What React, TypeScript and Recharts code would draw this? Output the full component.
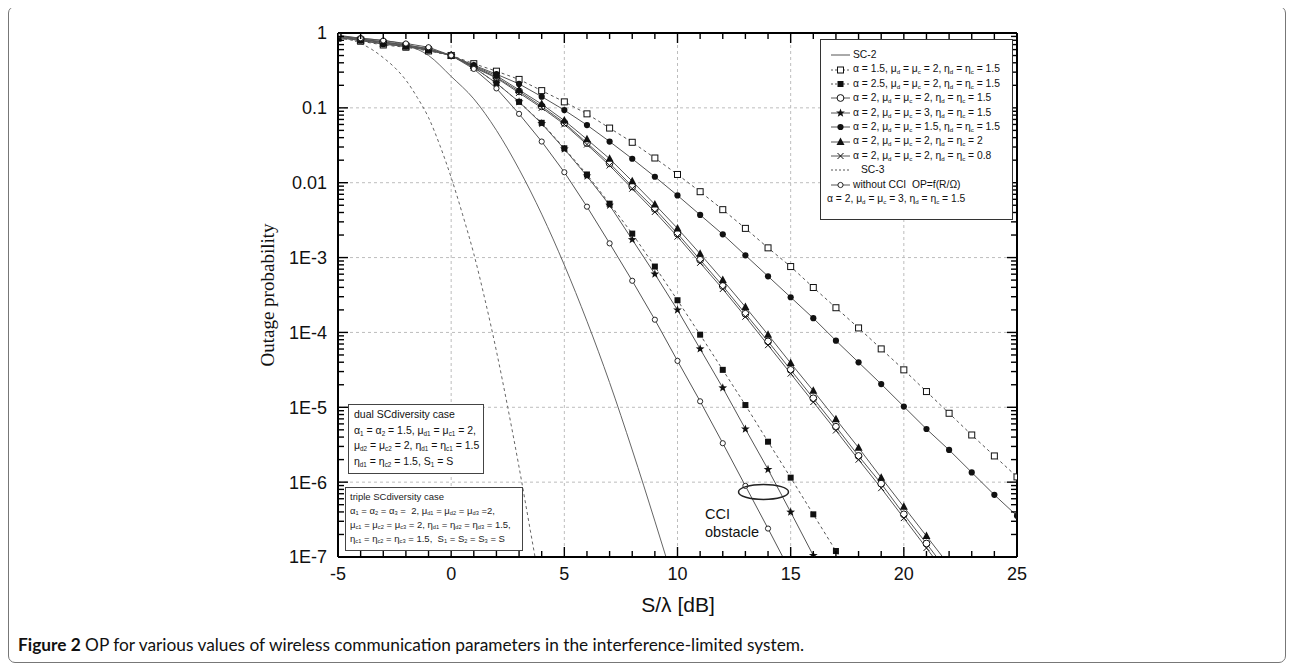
import React from "react";
import { LineChart, Line, XAxis, YAxis, CartesianGrid, ReferenceDot } from "recharts";

// S/λ in dB, one marker per dB
const snrDb = [-5, -4, -3, -2, -1, 0, 1, 2, 3, 4, 5, 6, 7, 8, 9, 10, 11, 12, 13, 14, 15, 16, 17, 18, 19, 20, 21, 22, 23, 24, 25];

// outage probability, stored as log10(OP)
const alpha15Log = [-0.07, -0.11, -0.16, -0.19, -0.24, -0.3, -0.41, -0.51, -0.62, -0.77, -0.92, -1.08, -1.27, -1.46, -1.67, -1.89, -2.12, -2.36, -2.61, -2.87, -3.12, -3.4, -3.67, -3.94, -4.22, -4.5, -4.79, -5.08, -5.37, -5.65, -5.93];
const alpha25Log = [-0.05, -0.09, -0.13, -0.17, -0.22, -0.3, -0.46, -0.67, -0.92, -1.2, -1.54, -1.89, -2.28, -2.68, -3.12, -3.57, -4.03, -4.5, -4.97, -5.46, -5.94, -6.43, -6.92, -7.41];
const baseLog = [-0.04, -0.08, -0.12, -0.16, -0.21, -0.3, -0.45, -0.59, -0.78, -0.98, -1.2, -1.47, -1.74, -2.05, -2.35, -2.68, -3.03, -3.38, -3.75, -4.12, -4.5, -4.88, -5.26, -5.65, -6.02, -6.43, -6.82, -7.22];
const mu3Log = [-0.04, -0.08, -0.12, -0.16, -0.21, -0.3, -0.46, -0.67, -0.92, -1.21, -1.55, -1.91, -2.3, -2.76, -3.22, -3.7, -4.22, -4.74, -5.29, -5.83, -6.4, -6.98, -7.56];
const mu15Log = [-0.06, -0.1, -0.15, -0.18, -0.23, -0.3, -0.43, -0.55, -0.68, -0.85, -1.03, -1.23, -1.45, -1.68, -1.92, -2.17, -2.43, -2.69, -2.97, -3.25, -3.53, -3.81, -4.11, -4.4, -4.69, -4.99, -5.29, -5.57, -5.87, -6.17, -6.45];
const eta2Log = [-0.06, -0.1, -0.14, -0.18, -0.23, -0.3, -0.44, -0.57, -0.76, -0.95, -1.17, -1.42, -1.68, -1.98, -2.29, -2.61, -2.95, -3.3, -3.66, -4.03, -4.41, -4.78, -5.16, -5.54, -5.94, -6.33, -6.72, -7.11];
const eta08Log = [-0.05, -0.09, -0.13, -0.17, -0.22, -0.3, -0.46, -0.6, -0.8, -1.0, -1.22, -1.49, -1.77, -2.08, -2.39, -2.72, -3.07, -3.42, -3.79, -4.17, -4.55, -4.93, -5.31, -5.7, -6.08, -6.48, -6.88, -7.28];
const noCciLog = [-0.03, -0.07, -0.1, -0.14, -0.19, -0.3, -0.48, -0.74, -1.08, -1.45, -1.86, -2.32, -2.81, -3.31, -3.83, -4.38, -4.92, -5.48, -6.05, -6.62, -7.2];

// curves without markers
const sc2X = [-5, -4, -3, -2, -1, 0, 1, 2, 3, 4, 5, 6, 7, 8, 9, 10];
const sc2Log = [-0.04, -0.07, -0.1, -0.16, -0.3, -0.58, -0.88, -1.3, -1.82, -2.42, -3.1, -3.85, -4.67, -5.57, -6.52, -7.5];
const sc3X = [-5, -4.5, -4, -3.5, -3, -2.5, -2, -1.5, -1, -0.5, 0, 0.5, 1, 1.5, 2, 2.5, 3, 3.5, 4];
const sc3Log = [-0.03, -0.08, -0.14, -0.22, -0.33, -0.46, -0.63, -0.86, -1.13, -1.5, -1.93, -2.42, -2.95, -3.57, -4.25, -5.0, -5.8, -6.65, -7.5];

const xMajor = [-5, 0, 5, 10, 15, 20, 25];
const yDecades = [1e-7, 1e-6, 1e-5, 1e-4, 1e-3, 1e-2, 1e-1, 1];
const yTickLabels = ["1E-7", "1E-6", "1E-5", "1E-4", "1E-3", "0.01", "0.1", "1"];

const yTicks: number[] = [];
yDecades.forEach((d, i) => {
  yTicks.push(d);
  if (i < yDecades.length - 1) for (let k = 2; k <= 9; k++) yTicks.push(k * d);
});

const toPoints = (xs: number[], logs: number[]) => logs.map((v, i) => ({ x: xs[i], op: Math.pow(10, v) }));

// plot area inside the chart svg
const PLOT = { left: 329, right: 1008, top: 26, bottom: 550 };
const SANS = "'Liberation Sans', Arial, sans-serif";
const LINE = "#555";

const isDecade = (v: number) => Math.abs(Math.log10(v) - Math.round(Math.log10(v))) < 1e-6;
const yLabel = (v: number) => {
  const i = yDecades.findIndex((d) => Math.abs(Math.log10(d) - Math.log10(v)) < 1e-6);
  return i >= 0 ? yTickLabels[i] : "";
};

function Marker({ kind, cx, cy }: { kind: string; cx: number; cy: number }) {
  if (cx == null || cy == null || isNaN(cx) || isNaN(cy)) return <g />;
  const s = "#111";
  switch (kind) {
    case "sqOpen":
      return <rect x={cx - 3} y={cy - 3} width={6} height={6} fill="#fff" stroke={s} strokeWidth={1} />;
    case "sqFilled":
      return <rect x={cx - 3} y={cy - 3} width={6} height={6} fill={s} />;
    case "circOpen":
      return <circle cx={cx} cy={cy} r={3.4} fill="#fff" stroke={s} strokeWidth={1} />;
    case "circSmall":
      return <circle cx={cx} cy={cy} r={2.6} fill="#fff" stroke={s} strokeWidth={0.9} />;
    case "circFilled":
      return <circle cx={cx} cy={cy} r={3.1} fill={s} />;
    case "tri":
      return <polygon points={`${cx},${cy - 4.5} ${cx - 4},${cy + 3} ${cx + 4},${cy + 3}`} fill={s} />;
    case "star": {
      const pts: string[] = [];
      for (let i = 0; i < 10; i++) {
        const r = i % 2 === 0 ? 4.6 : 1.9;
        const a = -Math.PI / 2 + (i * Math.PI) / 5;
        pts.push(`${cx + r * Math.cos(a)},${cy + r * Math.sin(a)}`);
      }
      return <polygon points={pts.join(" ")} fill={s} />;
    }
    case "cross":
      return (
        <g stroke={s} strokeWidth={1}>
          <line x1={cx - 3} y1={cy - 3} x2={cx + 3} y2={cy + 3} />
          <line x1={cx - 3} y1={cy + 3} x2={cx + 3} y2={cy - 3} />
        </g>
      );
    default:
      return <g />;
  }
}

const makeDot = (kind: string) => (p: any) => <Marker key={`${kind}-${p.index}`} kind={kind} cx={p.cx} cy={p.cy} />;

const Sub = ({ children }: { children: React.ReactNode }) => (
  <sub style={{ fontSize: "0.6em", verticalAlign: "-0.25em", lineHeight: 0 }}>{children}</sub>
);

const params = (a: string, mu: string, eta: string) => (
  <>
    α = {a}, μ<Sub>d</Sub> = μ<Sub>c</Sub> = {mu}, η<Sub>d</Sub> = η<Sub>c</Sub> = {eta}
  </>
);

const series = [
  { id: "sc2", data: toPoints(sc2X, sc2Log), dash: undefined, marker: "", curve: "monotone", label: <>SC-2</> },
  { id: "a15", data: toPoints(snrDb, alpha15Log), dash: "3 3", marker: "sqOpen", curve: "linear", label: params("1.5", "2", "1.5") },
  { id: "a25", data: toPoints(snrDb, alpha25Log), dash: "3 3", marker: "sqFilled", curve: "linear", label: params("2.5", "2", "1.5") },
  { id: "base", data: toPoints(snrDb, baseLog), dash: undefined, marker: "circOpen", curve: "linear", label: params("2", "2", "1.5") },
  { id: "mu3", data: toPoints(snrDb, mu3Log), dash: undefined, marker: "star", curve: "linear", label: params("2", "3", "1.5") },
  { id: "mu15", data: toPoints(snrDb, mu15Log), dash: undefined, marker: "circFilled", curve: "linear", label: params("2", "1.5", "1.5") },
  { id: "eta2", data: toPoints(snrDb, eta2Log), dash: undefined, marker: "tri", curve: "linear", label: params("2", "2", "2") },
  { id: "eta08", data: toPoints(snrDb, eta08Log), dash: undefined, marker: "cross", curve: "linear", label: params("2", "2", "0.8") },
  { id: "sc3", data: toPoints(sc3X, sc3Log), dash: "3 3", marker: "", curve: "monotone", label: <>SC-3</> },
  { id: "nocci", data: toPoints(snrDb, noCciLog), dash: undefined, marker: "circSmall", curve: "linear", label: <>without CCI&nbsp; OP=f(R/Ω)</> },
];

function LeftTick(props: any) {
  const { y, payload } = props;
  const major = isDecade(payload.value);
  return (
    <g>
      <line x1={PLOT.left} x2={PLOT.left + (major ? 10 : 6)} y1={y} y2={y} stroke="#000" strokeWidth={1.4} />
      {major && (
        <text x={PLOT.left - 11} y={y} dy="0.36em" textAnchor="end" fontSize={18} fontFamily={SANS} fill="#111">
          {yLabel(payload.value)}
        </text>
      )}
    </g>
  );
}

function RightTick(props: any) {
  const { y, payload } = props;
  const major = isDecade(payload.value);
  return <line x1={PLOT.right} x2={PLOT.right - (major ? 10 : 6)} y1={y} y2={y} stroke="#000" strokeWidth={1.4} />;
}

function BottomTick(props: any) {
  const { x, payload } = props;
  const major = xMajor.includes(payload.value);
  return (
    <g>
      <line x1={x} x2={x} y1={PLOT.bottom} y2={PLOT.bottom - (major ? 10 : 6)} stroke="#000" strokeWidth={1.4} />
      {major && (
        <text x={x} y={PLOT.bottom + 17} dy="0.36em" textAnchor="middle" fontSize={18} fontFamily={SANS} fill="#111">
          {payload.value}
        </text>
      )}
    </g>
  );
}

function TopTick(props: any) {
  const { x, payload } = props;
  const major = xMajor.includes(payload.value);
  return <line x1={x} x2={x} y1={PLOT.top} y2={PLOT.top + (major ? 10 : 6)} stroke="#000" strokeWidth={1.4} />;
}

function Ellipse(props: any) {
  return <ellipse cx={props.cx} cy={props.cy} rx={25} ry={7.5} fill="none" stroke="#222" strokeWidth={1.5} />;
}

function LegendSample({ dash, marker }: { dash?: string; marker: string }) {
  return (
    <svg width={19} height={10} style={{ display: "inline-block", verticalAlign: "middle", marginRight: 3 }}>
      <line x1={0} x2={19} y1={5} y2={5} stroke={LINE} strokeWidth={1} strokeDasharray={dash ? "2 2" : undefined} />
      {marker && <Marker kind={marker} cx={9.5} cy={5} />}
    </svg>
  );
}

const W = 1260;
const H = 620;

export default function App() {
  return (
    <div
      style={{
        position: "relative",
        width: 1278,
        height: 657,
        marginTop: -2,
        border: "1px solid #777",
        borderRadius: 7,
        boxSizing: "border-box",
        background: "#fff",
      }}
    >
      <div style={{ position: "absolute", left: 0, top: 0 }}>
        <LineChart
          width={W}
          height={H}
          margin={{ top: PLOT.top - 10, bottom: H - PLOT.bottom - 40, left: PLOT.left - 80, right: W - PLOT.right - 10 }}
        >
          <CartesianGrid
            stroke="#bdbdbd"
            strokeDasharray="3 3"
            verticalValues={xMajor}
            horizontalValues={yDecades}
          />
          <XAxis
            xAxisId={0}
            type="number"
            dataKey="x"
            domain={[-5, 25]}
            ticks={snrDb}
            interval={0}
            allowDataOverflow
            height={40}
            tickLine={false}
            axisLine={{ stroke: "#000", strokeWidth: 2 }}
            tick={<BottomTick />}
          />
          <XAxis
            xAxisId="top"
            orientation="top"
            type="number"
            dataKey="x"
            domain={[-5, 25]}
            ticks={snrDb}
            interval={0}
            allowDataOverflow
            height={10}
            tickLine={false}
            axisLine={{ stroke: "#000", strokeWidth: 2 }}
            tick={<TopTick />}
          />
          <YAxis
            yAxisId={0}
            type="number"
            scale="log"
            domain={[1e-7, 1]}
            ticks={yTicks}
            interval={0}
            allowDataOverflow
            width={80}
            tickLine={false}
            axisLine={{ stroke: "#000", strokeWidth: 2 }}
            tick={<LeftTick />}
          />
          <YAxis
            yAxisId="right"
            orientation="right"
            type="number"
            scale="log"
            domain={[1e-7, 1]}
            ticks={yTicks}
            interval={0}
            allowDataOverflow
            width={10}
            tickLine={false}
            axisLine={{ stroke: "#000", strokeWidth: 2 }}
            tick={<RightTick />}
          />
          {series.map((s) => (
            <Line
              key={s.id}
              data={s.data}
              dataKey="op"
              type={s.curve as any}
              stroke={s.marker ? LINE : "#666"}
              strokeWidth={1}
              strokeDasharray={s.dash}
              dot={s.marker ? makeDot(s.marker) : false}
              activeDot={false}
              isAnimationActive={false}
            />
          ))}
          <ReferenceDot x={13.8} y={7.4e-7} shape={<Ellipse />} ifOverflow="visible" />
        </LineChart>
      </div>

      {/* legend */}
      <div
        style={{
          position: "absolute",
          left: 811,
          top: 32,
          width: 193,
          height: 181,
          boxSizing: "border-box",
          border: "1px solid #333",
          background: "#fff",
          padding: "8px 0 0 10px",
          fontFamily: SANS,
          fontSize: 10.3,
          color: "#111",
          lineHeight: "14.4px",
          whiteSpace: "nowrap",
        }}
      >
        {series.map((s) => (
          <div key={s.id} style={{ height: 14.4 }}>
            <LegendSample dash={s.dash} marker={s.marker} />
            {s.id === "sc3" ? <span style={{ marginLeft: 8 }}>{s.label}</span> : s.label}
          </div>
        ))}
        <div style={{ height: 14.4, marginLeft: -4 }}>{params("2", "3", "1.5")}</div>
      </div>

      {/* dual SC box */}
      <div
        style={{
          position: "absolute",
          left: 339,
          top: 397,
          width: 136,
          height: 70,
          boxSizing: "border-box",
          border: "1px solid #444",
          background: "#fff",
          padding: "2px 0 0 5px",
          fontFamily: SANS,
          fontSize: 10.5,
          lineHeight: "15.5px",
          color: "#111",
          whiteSpace: "nowrap",
        }}
      >
        <div>dual SCdiversity case</div>
        <div>
          α<Sub>1</Sub> = α<Sub>2</Sub> = 1.5, μ<Sub>d1</Sub> = μ<Sub>c1</Sub> = 2,
        </div>
        <div>
          μ<Sub>d2</Sub> = μ<Sub>c2</Sub> = 2, η<Sub>d1</Sub> = η<Sub>c1</Sub> = 1.5
        </div>
        <div>
          η<Sub>d1</Sub> = η<Sub>c2</Sub> = 1.5, S<Sub>1</Sub> = S
        </div>
      </div>

      {/* triple SC box */}
      <div
        style={{
          position: "absolute",
          left: 336,
          top: 480,
          width: 178,
          height: 64,
          boxSizing: "border-box",
          border: "1px solid #444",
          background: "#fff",
          padding: "2px 0 0 4px",
          fontFamily: SANS,
          fontSize: 9.5,
          lineHeight: "14px",
          color: "#222",
          whiteSpace: "nowrap",
        }}
      >
        <div>triple SCdiversity case</div>
        <div>
          α<Sub>1</Sub> = α<Sub>2</Sub> = α<Sub>3</Sub> =&nbsp; 2, μ<Sub>d1</Sub> = μ<Sub>d2</Sub> = μ<Sub>d3</Sub> =2,
        </div>
        <div>
          μ<Sub>c1</Sub> = μ<Sub>c2</Sub> = μ<Sub>c3</Sub> = 2, η<Sub>d1</Sub> = η<Sub>d2</Sub> = η<Sub>d3</Sub> = 1.5,
        </div>
        <div>
          η<Sub>c1</Sub> = η<Sub>c2</Sub> = η<Sub>c3</Sub> = 1.5,&nbsp; S<Sub>1</Sub> = S<Sub>2</Sub> = S<Sub>3</Sub> = S
        </div>
      </div>

      {/* annotation */}
      <div
        style={{
          position: "absolute",
          left: 696,
          top: 498,
          fontFamily: SANS,
          fontSize: 14.5,
          lineHeight: "18px",
          color: "#111",
        }}
      >
        CCI
        <br />
        obstacle
      </div>

      {/* axis titles */}
      <div
        style={{
          position: "absolute",
          left: 259,
          top: 288,
          transform: "translate(-50%, -50%) rotate(-90deg)",
          fontFamily: "'Liberation Serif', 'Times New Roman', serif",
          fontSize: 19,
          color: "#111",
          whiteSpace: "nowrap",
        }}
      >
        Outage probability
      </div>
      <div
        style={{
          position: "absolute",
          left: 669,
          top: 598,
          transform: "translate(-50%, -50%)",
          fontFamily: SANS,
          fontSize: 21,
          color: "#111",
          whiteSpace: "nowrap",
        }}
      >
        S/λ [dB]
      </div>

      {/* caption */}
      <div
        style={{
          position: "absolute",
          left: 9,
          top: 627,
          fontFamily: "Lato, 'Open Sans', sans-serif",
          fontSize: 17.3,
          lineHeight: "22px",
          color: "#111",
          whiteSpace: "nowrap",
        }}
      >
        <b>Figure 2</b> OP for various values of wireless communication parameters in the interference-limited system.
      </div>
    </div>
  );
}
